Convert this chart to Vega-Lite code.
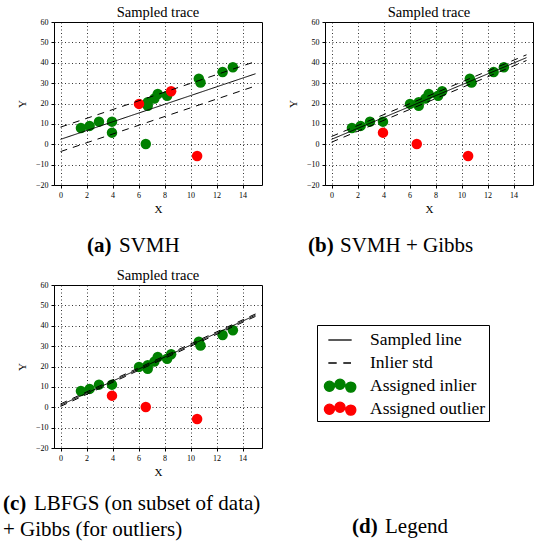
{
  "$schema": "https://vega.github.io/schema/vega-lite/v6.json",
  "padding": {"left": 2, "top": 4, "right": 2, "bottom": 2},
  "background": "white",
  "datasets": {
    "points": [
      {"panel":"a","x":1.57,"y":8.0,"assign":"inlier"},
      {"panel":"a","x":2.24,"y":9.0,"assign":"inlier"},
      {"panel":"a","x":2.96,"y":11.1,"assign":"inlier"},
      {"panel":"a","x":3.96,"y":11.1,"assign":"inlier"},
      {"panel":"a","x":3.96,"y":5.7,"assign":"inlier"},
      {"panel":"a","x":6.56,"y":0.1,"assign":"inlier"},
      {"panel":"a","x":6.71,"y":20.6,"assign":"inlier"},
      {"panel":"a","x":6.71,"y":18.9,"assign":"inlier"},
      {"panel":"a","x":7.22,"y":22.4,"assign":"inlier"},
      {"panel":"a","x":7.48,"y":24.7,"assign":"inlier"},
      {"panel":"a","x":8.2,"y":23.8,"assign":"inlier"},
      {"panel":"a","x":10.64,"y":32.2,"assign":"inlier"},
      {"panel":"a","x":10.77,"y":30.3,"assign":"inlier"},
      {"panel":"a","x":12.47,"y":35.5,"assign":"inlier"},
      {"panel":"a","x":13.26,"y":37.8,"assign":"inlier"},
      {"panel":"a","x":6.04,"y":19.8,"assign":"outlier"},
      {"panel":"a","x":8.51,"y":26.0,"assign":"outlier"},
      {"panel":"a","x":10.51,"y":-5.8,"assign":"outlier"},
      {"panel":"b","x":1.57,"y":8.0,"assign":"inlier"},
      {"panel":"b","x":2.24,"y":9.0,"assign":"inlier"},
      {"panel":"b","x":2.96,"y":11.1,"assign":"inlier"},
      {"panel":"b","x":3.96,"y":11.1,"assign":"inlier"},
      {"panel":"b","x":6.04,"y":19.8,"assign":"inlier"},
      {"panel":"b","x":6.71,"y":20.6,"assign":"inlier"},
      {"panel":"b","x":6.71,"y":18.9,"assign":"inlier"},
      {"panel":"b","x":7.22,"y":22.4,"assign":"inlier"},
      {"panel":"b","x":7.48,"y":24.7,"assign":"inlier"},
      {"panel":"b","x":8.2,"y":23.8,"assign":"inlier"},
      {"panel":"b","x":8.51,"y":26.0,"assign":"inlier"},
      {"panel":"b","x":10.64,"y":32.2,"assign":"inlier"},
      {"panel":"b","x":10.77,"y":30.3,"assign":"inlier"},
      {"panel":"b","x":12.47,"y":35.5,"assign":"inlier"},
      {"panel":"b","x":13.26,"y":37.8,"assign":"inlier"},
      {"panel":"b","x":3.96,"y":5.7,"assign":"outlier"},
      {"panel":"b","x":6.56,"y":0.1,"assign":"outlier"},
      {"panel":"b","x":10.51,"y":-5.8,"assign":"outlier"},
      {"panel":"c","x":1.57,"y":8.0,"assign":"inlier"},
      {"panel":"c","x":2.24,"y":9.0,"assign":"inlier"},
      {"panel":"c","x":2.96,"y":11.1,"assign":"inlier"},
      {"panel":"c","x":3.96,"y":11.1,"assign":"inlier"},
      {"panel":"c","x":6.04,"y":19.8,"assign":"inlier"},
      {"panel":"c","x":6.71,"y":20.6,"assign":"inlier"},
      {"panel":"c","x":6.71,"y":18.9,"assign":"inlier"},
      {"panel":"c","x":7.22,"y":22.4,"assign":"inlier"},
      {"panel":"c","x":7.48,"y":24.7,"assign":"inlier"},
      {"panel":"c","x":8.2,"y":23.8,"assign":"inlier"},
      {"panel":"c","x":8.51,"y":26.0,"assign":"inlier"},
      {"panel":"c","x":10.64,"y":32.2,"assign":"inlier"},
      {"panel":"c","x":10.77,"y":30.3,"assign":"inlier"},
      {"panel":"c","x":12.47,"y":35.5,"assign":"inlier"},
      {"panel":"c","x":13.26,"y":37.8,"assign":"inlier"},
      {"panel":"c","x":3.96,"y":5.7,"assign":"outlier"},
      {"panel":"c","x":6.56,"y":0.1,"assign":"outlier"},
      {"panel":"c","x":10.51,"y":-5.8,"assign":"outlier"}
    ],
    "lines": [
      {"panel":"a","series":"fit","kind":"fit","x":0,"y":2.4},
      {"panel":"a","series":"fit","kind":"fit","x":15,"y":34.6},
      {"panel":"a","series":"upper","kind":"std","x":0,"y":8.4},
      {"panel":"a","series":"upper","kind":"std","x":15,"y":40.6},
      {"panel":"a","series":"lower","kind":"std","x":0,"y":-3.6},
      {"panel":"a","series":"lower","kind":"std","x":15,"y":28.6},
      {"panel":"b","series":"fit","kind":"fit","x":0,"y":2.4},
      {"panel":"b","series":"fit","kind":"fit","x":15,"y":42.5},
      {"panel":"b","series":"upper","kind":"std","x":0,"y":3.8},
      {"panel":"b","series":"upper","kind":"std","x":15,"y":43.9},
      {"panel":"b","series":"lower","kind":"std","x":0,"y":1.0},
      {"panel":"b","series":"lower","kind":"std","x":15,"y":41.1},
      {"panel":"c","series":"fit","kind":"fit","x":0,"y":1.0},
      {"panel":"c","series":"fit","kind":"fit","x":15,"y":45.2},
      {"panel":"c","series":"upper","kind":"std","x":0,"y":1.6},
      {"panel":"c","series":"upper","kind":"std","x":15,"y":45.8},
      {"panel":"c","series":"lower","kind":"std","x":0,"y":0.4},
      {"panel":"c","series":"lower","kind":"std","x":15,"y":44.6}
    ],
    "legend": [
      {"label":"Sampled line"},
      {"label":"Inlier std"},
      {"label":"Assigned inlier"},
      {"label":"Assigned outlier"}
    ]
  },
  "title": {
    "text": "LBFGS (on subset of data)",
    "orient": "bottom", "anchor": "start", "frame": "bounds",
    "dx": 31, "offset": -47,
    "font": "Liberation Serif", "fontSize": 21, "fontWeight": "normal", "color": "black"
  },
  "vconcat": [
    {
      "title": {
        "text": "(c)",
        "subtitle": "+ Gibbs (for outliers)",
        "orient": "bottom", "anchor": "start", "frame": "bounds",
        "dx": -13, "offset": -44,
        "font": "Liberation Serif", "fontSize": 21, "fontWeight": "bold", "color": "black",
        "subtitleFont": "Liberation Serif", "subtitleFontSize": 21, "subtitleFontWeight": "normal", "subtitleColor": "black",
        "subtitlePadding": 5
      },
      "spacing": 11,
      "vconcat": [
        {
          "hconcat": [
            {
              "title": {
                "text": "SVMH", "orient": "bottom", "anchor": "start", "frame": "bounds",
                "dx": 103, "offset": -21,
                "font": "Liberation Serif", "fontSize": 21, "fontWeight": "normal", "color": "black"
              },
              "vconcat": [
                {
                  "title": {
                    "text": "(a)", "orient": "bottom", "anchor": "start", "frame": "bounds",
                    "dx": 71, "offset": 20,
                    "font": "Liberation Serif", "fontSize": 21, "fontWeight": "bold", "color": "black"
                  },
                  "vconcat": [
                    {
                      "width": 208, "height": 163,
                      "title": {"text": "Sampled trace", "anchor": "middle", "frame": "group", "offset": -2},
                      "encoding": {
                        "x": {"field": "x", "type": "quantitative", "scale": {"domain": [-0.5, 15.5], "nice": false, "zero": false},
                              "axis": {"title": "X", "values": [0,2,4,6,8,10,12,14]}},
                        "y": {"field": "y", "type": "quantitative", "scale": {"domain": [-20, 60], "nice": false, "zero": false},
                              "axis": {"title": "Y", "values": [-20,-10,0,10,20,30,40,50,60]}}
                      },
                      "layer": [
                        {
                          "data": {"name": "points"},
                          "transform": [{"filter": "datum.panel === 'a'"}],
                          "mark": {"type": "circle", "size": 110, "opacity": 1},
                          "encoding": {"color": {"field": "assign", "type": "nominal", "scale": {"domain": ["inlier","outlier"], "range": ["#008000","#ff0000"]}, "legend": null}}
                        },
                        {
                          "data": {"name": "lines"},
                          "transform": [{"filter": "datum.panel === 'a'"}],
                          "mark": {"type": "line", "color": "black", "strokeWidth": 1},
                          "encoding": {
                            "detail": {"field": "series", "type": "nominal"},
                            "strokeDash": {"field": "kind", "type": "nominal", "scale": {"domain": ["fit","std"], "range": [[1,0],[7,6]]}, "legend": null}
                          }
                        }
                      ]
                    }
                  ]
                }
              ]
            },
            {
              "title": {
                "text": "SVMH + Gibbs", "orient": "bottom", "anchor": "start", "frame": "bounds",
                "dx": 53, "offset": -21,
                "font": "Liberation Serif", "fontSize": 21, "fontWeight": "normal", "color": "black"
              },
              "vconcat": [
                {
                  "title": {
                    "text": "(b)", "orient": "bottom", "anchor": "start", "frame": "bounds",
                    "dx": 21, "offset": 20,
                    "font": "Liberation Serif", "fontSize": 21, "fontWeight": "bold", "color": "black"
                  },
                  "vconcat": [
                    {
                      "width": 208, "height": 163,
                      "title": {"text": "Sampled trace", "anchor": "middle", "frame": "group", "offset": -2},
                      "encoding": {
                        "x": {"field": "x", "type": "quantitative", "scale": {"domain": [-0.5, 15.5], "nice": false, "zero": false},
                              "axis": {"title": "X", "values": [0,2,4,6,8,10,12,14]}},
                        "y": {"field": "y", "type": "quantitative", "scale": {"domain": [-20, 60], "nice": false, "zero": false},
                              "axis": {"title": "Y", "values": [-20,-10,0,10,20,30,40,50,60]}}
                      },
                      "layer": [
                        {
                          "data": {"name": "points"},
                          "transform": [{"filter": "datum.panel === 'b'"}],
                          "mark": {"type": "circle", "size": 110, "opacity": 1},
                          "encoding": {"color": {"field": "assign", "type": "nominal", "scale": {"domain": ["inlier","outlier"], "range": ["#008000","#ff0000"]}, "legend": null}}
                        },
                        {
                          "data": {"name": "lines"},
                          "transform": [{"filter": "datum.panel === 'b'"}],
                          "mark": {"type": "line", "color": "black", "strokeWidth": 1},
                          "encoding": {
                            "detail": {"field": "series", "type": "nominal"},
                            "strokeDash": {"field": "kind", "type": "nominal", "scale": {"domain": ["fit","std"], "range": [[1,0],[7,6]]}, "legend": null}
                          }
                        }
                      ]
                    }
                  ]
                }
              ]
            }
          ],
          "spacing": 23
        },
        {
          "hconcat": [
            {
              "width": 208, "height": 163,
              "title": {"text": "Sampled trace", "anchor": "middle", "frame": "group", "offset": -2},
              "encoding": {
                "x": {"field": "x", "type": "quantitative", "scale": {"domain": [-0.5, 15.5], "nice": false, "zero": false},
                      "axis": {"title": "X", "values": [0,2,4,6,8,10,12,14]}},
                "y": {"field": "y", "type": "quantitative", "scale": {"domain": [-20, 60], "nice": false, "zero": false},
                      "axis": {"title": "Y", "values": [-20,-10,0,10,20,30,40,50,60]}}
              },
              "layer": [
                {
                  "data": {"name": "points"},
                  "transform": [{"filter": "datum.panel === 'c'"}],
                  "mark": {"type": "circle", "size": 110, "opacity": 1},
                  "encoding": {"color": {"field": "assign", "type": "nominal", "scale": {"domain": ["inlier","outlier"], "range": ["#008000","#ff0000"]}, "legend": null}}
                },
                {
                  "data": {"name": "lines"},
                  "transform": [{"filter": "datum.panel === 'c'"}],
                  "mark": {"type": "line", "color": "black", "strokeWidth": 1},
                  "encoding": {
                    "detail": {"field": "series", "type": "nominal"},
                    "strokeDash": {"field": "kind", "type": "nominal", "scale": {"domain": ["fit","std"], "range": [[1,0],[7,6]]}, "legend": null}
                  }
                }
              ]
            },
            {
              "title": {
                "text": "Legend", "orient": "bottom", "anchor": "start", "frame": "bounds",
                "dx": 68, "offset": -21,
                "font": "Liberation Serif", "fontSize": 21, "fontWeight": "normal", "color": "black"
              },
              "vconcat": [
                {
                  "width": 206, "height": 163,
                  "view": {"stroke": null},
                  "title": {
                    "text": "(d)", "orient": "bottom", "anchor": "start", "frame": "group",
                    "dx": 35, "offset": 68,
                    "font": "Liberation Serif", "fontSize": 21, "fontWeight": "bold", "color": "black"
                  },
                  "data": {"name": "legend"},
                  "mark": {"type": "point", "filled": true, "opacity": 0},
                  "encoding": {
                    "fill": {"field": "label", "type": "nominal", "title": null,
                             "scale": {"domain": ["Sampled line","Inlier std","Assigned inlier","Assigned outlier"], "range": ["black","black","#008000","#ff0000"]},
                             "legend": {"orient": "none", "legendX": 263, "legendY": 303, "title": null}},
                    "stroke": {"field": "label", "type": "nominal", "title": null,
                             "scale": {"domain": ["Sampled line","Inlier std","Assigned inlier","Assigned outlier"], "range": ["black","black","#008000","#ff0000"]},
                             "legend": {"orient": "none", "legendX": 263, "legendY": 303, "title": null}},
                    "shape": {"field": "label", "type": "nominal", "title": null,
                             "scale": {"domain": ["Sampled line","Inlier std","Assigned inlier","Assigned outlier"],
                                       "range": [
                                         "M-1.06,0L1.06,0",
                                         "M-1.06,0L-0.3,0M0.3,0L1.0,0",
                                         "M-0.5,0.02C-0.5,0.274,-0.706,0.48,-0.96,0.48C-1.214,0.48,-1.42,0.274,-1.42,0.02C-1.42,-0.234,-1.214,-0.44,-0.96,-0.44C-0.706,-0.44,-0.5,-0.234,-0.5,0.02ZM0.46,-0.16C0.46,0.094,0.254,0.3,0,0.3C-0.254,0.3,-0.46,0.094,-0.46,-0.16C-0.46,-0.414,-0.254,-0.62,0,-0.62C0.254,-0.62,0.46,-0.414,0.46,-0.16ZM1.44,0.1C1.44,0.354,1.234,0.56,0.98,0.56C0.726,0.56,0.52,0.354,0.52,0.1C0.52,-0.154,0.726,-0.36,0.98,-0.36C1.234,-0.36,1.44,-0.154,1.44,0.1Z",
                                         "M-0.5,0.02C-0.5,0.274,-0.706,0.48,-0.96,0.48C-1.214,0.48,-1.42,0.274,-1.42,0.02C-1.42,-0.234,-1.214,-0.44,-0.96,-0.44C-0.706,-0.44,-0.5,-0.234,-0.5,0.02ZM0.46,-0.16C0.46,0.094,0.254,0.3,0,0.3C-0.254,0.3,-0.46,0.094,-0.46,-0.16C-0.46,-0.414,-0.254,-0.62,0,-0.62C0.254,-0.62,0.46,-0.414,0.46,-0.16ZM1.44,0.1C1.44,0.354,1.234,0.56,0.98,0.56C0.726,0.56,0.52,0.354,0.52,0.1C0.52,-0.154,0.726,-0.36,0.98,-0.36C1.234,-0.36,1.44,-0.154,1.44,0.1Z"
                                       ]},
                             "legend": {"orient": "none", "legendX": 263, "legendY": 303, "title": null}}
                  }
                }
              ]
            }
          ],
          "spacing": 54
        }
      ]
    }
  ],
  "config": {
    "view": {"stroke": "black", "strokeWidth": 1},
    "axis": {
      "labelFont": "Liberation Serif", "labelFontSize": 8, "labelColor": "black",
      "titleFont": "Liberation Serif", "titleFontSize": 11, "titleFontWeight": "normal", "titleColor": "black",
      "domain": false, "ticks": true, "tickColor": "black", "tickSize": 3, "labelPadding": 3,
      "grid": true, "gridColor": "black", "gridDash": [1, 2.5], "gridWidth": 0.8, "gridOpacity": 1,
      "titlePadding": 4
    },
    "axisY": {"titlePadding": 8},
    "title": {"font": "Liberation Serif", "fontSize": 14.5, "fontWeight": "normal", "color": "black"},
    "legend": {
      "strokeColor": "black", "fillColor": "white", "padding": 3, "cornerRadius": 0,
      "symbolSize": 484, "symbolStrokeWidth": 1.3, "symbolOffset": 8, "labelOffset": 18,
      "labelFont": "Liberation Serif", "labelFontSize": 17.5, "labelColor": "black",
      "rowPadding": 2, "symbolOpacity": 1, "labelLimit": 0
    }
  }
}
